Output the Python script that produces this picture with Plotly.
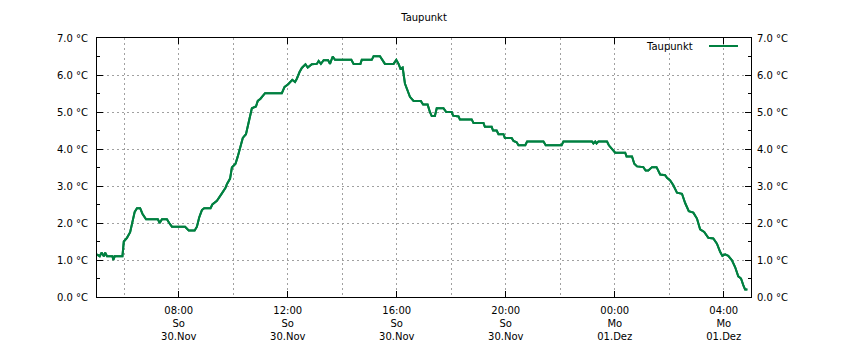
import plotly.graph_objects as go

title_text = "Taupunkt"
series_name = "Taupunkt"

times = [
    "2014-11-30 05:00", "2014-11-30 05:06", "2014-11-30 05:10", "2014-11-30 05:15", "2014-11-30 05:18",
    "2014-11-30 05:22", "2014-11-30 05:34", "2014-11-30 05:36", "2014-11-30 05:39", "2014-11-30 05:56",
    "2014-11-30 05:59", "2014-11-30 06:06", "2014-11-30 06:13", "2014-11-30 06:17", "2014-11-30 06:23",
    "2014-11-30 06:28", "2014-11-30 06:35", "2014-11-30 06:40", "2014-11-30 06:48", "2014-11-30 07:14",
    "2014-11-30 07:18", "2014-11-30 07:23", "2014-11-30 07:34", "2014-11-30 07:39", "2014-11-30 07:45",
    "2014-11-30 08:14", "2014-11-30 08:22", "2014-11-30 08:35", "2014-11-30 08:40", "2014-11-30 08:45",
    "2014-11-30 08:51", "2014-11-30 08:56", "2014-11-30 09:10", "2014-11-30 09:14", "2014-11-30 09:24",
    "2014-11-30 09:35", "2014-11-30 09:43", "2014-11-30 09:46", "2014-11-30 09:53", "2014-11-30 09:57",
    "2014-11-30 10:05", "2014-11-30 10:10", "2014-11-30 10:16", "2014-11-30 10:21", "2014-11-30 10:28",
    "2014-11-30 10:32", "2014-11-30 10:37", "2014-11-30 10:41", "2014-11-30 10:50", "2014-11-30 10:54",
    "2014-11-30 11:00", "2014-11-30 11:10", "2014-11-30 11:47", "2014-11-30 11:53", "2014-11-30 12:01",
    "2014-11-30 12:10", "2014-11-30 12:16", "2014-11-30 12:20", "2014-11-30 12:26", "2014-11-30 12:31",
    "2014-11-30 12:39", "2014-11-30 12:44", "2014-11-30 12:53", "2014-11-30 13:04", "2014-11-30 13:08",
    "2014-11-30 13:13", "2014-11-30 13:19", "2014-11-30 13:29", "2014-11-30 13:33", "2014-11-30 13:39",
    "2014-11-30 13:44", "2014-11-30 14:20", "2014-11-30 14:25", "2014-11-30 14:40", "2014-11-30 14:43",
    "2014-11-30 15:05", "2014-11-30 15:09", "2014-11-30 15:23", "2014-11-30 15:34", "2014-11-30 15:53",
    "2014-11-30 15:59", "2014-11-30 16:04", "2014-11-30 16:08", "2014-11-30 16:13", "2014-11-30 16:18",
    "2014-11-30 16:24", "2014-11-30 16:29", "2014-11-30 16:37", "2014-11-30 16:53", "2014-11-30 16:58",
    "2014-11-30 17:08", "2014-11-30 17:13", "2014-11-30 17:17", "2014-11-30 17:24", "2014-11-30 17:28",
    "2014-11-30 17:43", "2014-11-30 17:49", "2014-11-30 18:01", "2014-11-30 18:04", "2014-11-30 18:16",
    "2014-11-30 18:19", "2014-11-30 18:45", "2014-11-30 18:49", "2014-11-30 19:11", "2014-11-30 19:14",
    "2014-11-30 19:29", "2014-11-30 19:32", "2014-11-30 19:40", "2014-11-30 19:44", "2014-11-30 19:55",
    "2014-11-30 19:58", "2014-11-30 20:13", "2014-11-30 20:17", "2014-11-30 20:24", "2014-11-30 20:28",
    "2014-11-30 20:43", "2014-11-30 20:47", "2014-11-30 21:23", "2014-11-30 21:28", "2014-11-30 22:03",
    "2014-11-30 22:07", "2014-11-30 23:10", "2014-11-30 23:13", "2014-11-30 23:17", "2014-11-30 23:20",
    "2014-11-30 23:24", "2014-11-30 23:43", "2014-11-30 23:47", "2014-11-30 23:53", "2014-12-01 00:01",
    "2014-12-01 00:23", "2014-12-01 00:26", "2014-12-01 00:38", "2014-12-01 00:43", "2014-12-01 00:49",
    "2014-12-01 01:03", "2014-12-01 01:08", "2014-12-01 01:14", "2014-12-01 01:22", "2014-12-01 01:32",
    "2014-12-01 01:40", "2014-12-01 01:51", "2014-12-01 01:55", "2014-12-01 02:02", "2014-12-01 02:09",
    "2014-12-01 02:17", "2014-12-01 02:28", "2014-12-01 02:35", "2014-12-01 02:43", "2014-12-01 02:53",
    "2014-12-01 03:01", "2014-12-01 03:08", "2014-12-01 03:17", "2014-12-01 03:26", "2014-12-01 03:37",
    "2014-12-01 03:45", "2014-12-01 03:52", "2014-12-01 03:57", "2014-12-01 04:03", "2014-12-01 04:10",
    "2014-12-01 04:18", "2014-12-01 04:25", "2014-12-01 04:32", "2014-12-01 04:38", "2014-12-01 04:43",
    "2014-12-01 04:47", "2014-12-01 04:52",
]

dewpoint = [
    1.15, 1.1, 1.2, 1.1, 1.2,
    1.1, 1.1, 1.0, 1.1, 1.1,
    1.5, 1.6, 1.75, 2.0, 2.3,
    2.4, 2.4, 2.25, 2.1, 2.1,
    2.0, 2.1, 2.1, 2.0, 1.9,
    1.9, 1.8, 1.8, 1.9, 2.15,
    2.35, 2.4, 2.4, 2.5, 2.6,
    2.8, 2.95, 3.05, 3.2, 3.5,
    3.6, 3.8, 4.1, 4.3, 4.4,
    4.6, 4.9, 5.1, 5.15, 5.3,
    5.36, 5.51, 5.51, 5.68, 5.75,
    5.87, 5.81, 5.9, 6.08, 6.19,
    6.29, 6.2, 6.29, 6.3, 6.38,
    6.3, 6.4, 6.4, 6.3, 6.5,
    6.41, 6.41, 6.3, 6.3, 6.41,
    6.41, 6.51, 6.51, 6.3, 6.3,
    6.41, 6.3, 6.17, 6.2, 5.77,
    5.55, 5.41, 5.3, 5.3, 5.2,
    5.2, 5.0, 4.89, 4.89, 5.1,
    5.1, 5.0, 5.0, 4.9, 4.88,
    4.8, 4.8, 4.7, 4.7, 4.6,
    4.6, 4.5, 4.5, 4.4, 4.4,
    4.3, 4.3, 4.22, 4.18, 4.1,
    4.1, 4.2, 4.2, 4.1, 4.1,
    4.2, 4.2, 4.15, 4.2, 4.15,
    4.2, 4.2, 4.1, 4.0, 3.9,
    3.9, 3.8, 3.8, 3.6, 3.53,
    3.51, 3.42, 3.42, 3.51, 3.51,
    3.31, 3.29, 3.22, 3.15, 3.02,
    2.82, 2.79, 2.54, 2.32, 2.28,
    2.12, 1.83, 1.76, 1.6, 1.58,
    1.44, 1.22, 1.11, 1.15, 1.11,
    0.99, 0.81, 0.56, 0.5, 0.32,
    0.2, 0.2,
]

x_tick_vals = ["2014-11-30 08:00", "2014-11-30 12:00", "2014-11-30 16:00",
               "2014-11-30 20:00", "2014-12-01 00:00", "2014-12-01 04:00"]
x_tick_text = ["08:00<br>So<br>30.Nov", "12:00<br>So<br>30.Nov", "16:00<br>So<br>30.Nov",
               "20:00<br>So<br>30.Nov", "00:00<br>Mo<br>01.Dez", "04:00<br>Mo<br>01.Dez"]
x_range = ["2014-11-30 05:00", "2014-12-01 05:00"]
y_range = [0.0, 7.0]

LINE_COLOR = "#008040"
GRID_COLOR = "#a0a0a0"
FONT = "DejaVu Sans"

# plot area in pixels
L, R, T, B = 97, 751, 38, 297

fig = go.Figure()
fig.add_trace(go.Scatter(x=times, y=dewpoint, mode="lines", name=series_name,
                         line=dict(color=LINE_COLOR, width=2), showlegend=False, yaxis="y"))
fig.add_trace(go.Scatter(x=times, y=dewpoint, mode="lines", name=series_name,
                         line=dict(color=LINE_COLOR, width=2), showlegend=False, yaxis="y2",
                         hoverinfo="skip"))

yaxis_common = dict(
    range=y_range, dtick=1, tick0=0, tickformat=".1f", ticksuffix=" °C",
    ticks="inside", ticklen=6, tickcolor="black",
    tickfont=dict(family=FONT, size=10, color="black"),
    minor=dict(dtick=0.5, ticks="inside", ticklen=3, tickcolor="black", showgrid=False),
    zeroline=False, fixedrange=True, automargin=False,
)

fig.update_layout(
    width=850, height=350,
    margin=dict(l=L, r=850 - R, t=T, b=350 - B),
    paper_bgcolor="white", plot_bgcolor="white",
    font=dict(family=FONT, size=10, color="black"),
    title=dict(text=title_text, x=((L + R) / 2) / 850, xanchor="center",
               y=1 - 17 / 350, yanchor="middle", font=dict(family=FONT, size=10, color="black")),
    xaxis=dict(
        type="date", range=x_range, tickmode="array", tickvals=x_tick_vals, ticktext=x_tick_text,
        ticks="inside", ticklen=6, tickcolor="black", ticklabelstandoff=4, automargin=False,
        showline=True, linecolor="black", linewidth=1, mirror="ticks",
        showgrid=True, gridcolor=GRID_COLOR, griddash="2px,3px", gridwidth=1,
        minor=dict(dtick=2 * 3600 * 1000, tick0="2014-11-30 00:00", showgrid=True,
                   gridcolor=GRID_COLOR, griddash="2px,3px", gridwidth=1, ticks=""),
        tickfont=dict(family=FONT, size=10, color="black"),
        zeroline=False, fixedrange=True,
    ),
    yaxis=dict(
        **yaxis_common, ticklabelstandoff=6,
        showline=True, linecolor="black", linewidth=1, mirror=True,
        showgrid=True, gridcolor=GRID_COLOR, griddash="2px,3px", gridwidth=1,
    ),
    yaxis2=dict(
        **yaxis_common, ticklabelstandoff=3,
        overlaying="y", side="right", showline=True, linecolor="black", linewidth=1,
        showgrid=False, matches="y",
    ),
)

# legend (gnuplot style: text then line sample, top right inside)
fig.add_annotation(x=(695 - L) / (R - L), y=(B - 46) / (B - T), xref="paper", yref="paper",
                   text=series_name, showarrow=False, xanchor="right", yanchor="middle",
                   font=dict(family=FONT, size=10, color="black"))
fig.add_shape(type="line", xref="paper", yref="paper",
              x0=(709 - L) / (R - L), x1=(738 - L) / (R - L),
              y0=(B - 46) / (B - T), y1=(B - 46) / (B - T),
              line=dict(color=LINE_COLOR, width=2))

fig.write_html("out.html")
